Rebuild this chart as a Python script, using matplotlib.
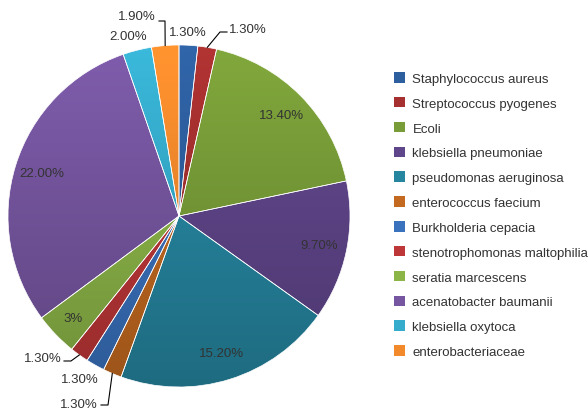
import numpy as np
import matplotlib.pyplot as plt
from matplotlib.colors import to_rgb
from matplotlib.patches import Patch

plt.rcParams['font.family'] = ['Liberation Sans', 'DejaVu Sans']

# Data
names = ['Staphylococcus aureus', 'Streptococcus pyogenes', 'Ecoli',
         'klebsiella pneumoniae', 'pseudomonas aeruginosa', 'enterococcus faecium',
         'Burkholderia cepacia', 'stenotrophomonas maltophilia', 'seratia marcescens',
         'acenatobacter baumanii', 'klebsiella oxytoca', 'enterobacteriaceae']
values = [1.3, 1.3, 13.4, 9.7, 15.2, 1.3, 1.3, 1.3, 3.0, 22.0, 2.0, 1.9]
value_labels = ['1.30%', '1.30%', '13.40%', '9.70%', '15.20%', '1.30%',
                '1.30%', '1.30%', '3%', '22.00%', '2.00%', '1.90%']

colors = ['#2D5E9E', '#A5302F', '#789C38', '#5F4589', '#2686A0', '#C46A20',
          '#3A72BE', '#BE3738', '#8CB548', '#7656A0', '#36ACCC', '#F28A2C']

fig = plt.figure(figsize=(5.88, 4.10), dpi=100)
ax = fig.add_axes([0, 0, 1, 1])

cx, cy, R = 179, 193, 171
wedges, _ = ax.pie(values, colors=colors, startangle=90, counterclock=False,
                   center=(cx, cy), radius=R,
                   wedgeprops=dict(edgecolor='white', linewidth=0.5))

# vertical gradient inside every slice (light at top, dark at bottom)
shade = np.linspace(1.08, 0.80, 256)
for w, c in zip(wedges, colors):
    img = np.clip(np.array(to_rgb(c))[None, None, :] * shade[:, None, None], 0, 1)
    im = ax.imshow(img, extent=(cx - R, cx + R, cy - R, cy + R), origin='upper',
                   aspect='auto', interpolation='bilinear', zorder=w.get_zorder() - 0.1)
    im.set_clip_path(w)
    w.set_facecolor('none')

ax.set_xlim(0, 588)
ax.set_ylim(0, 410)
ax.set_aspect('equal')
ax.axis('off')

txt_color = '#333333'
fs = 9.5

def mid_angle(w):
    return np.deg2rad((w.theta1 + w.theta2) / 2)

# labels inside the big slices
for i in [2, 3, 4, 8, 9]:
    a = mid_angle(wedges[i])
    r = 0.86 if i == 8 else 0.84
    ax.text(cx + r * R * np.cos(a), cy + r * R * np.sin(a), value_labels[i],
            ha='center', va='center', fontsize=fs, color=txt_color, zorder=5)

# labels outside the small slices: index -> (text x, text y, ha, leader elbow, leader end)
outside = {
    0: (188, 377, 'center', None, None),
    1: (229, 380, 'left', (220, 377), (227, 377)),
    5: (98, 5, 'right', (108, 4), (101, 4)),
    6: (80, 30, 'center', None, None),
    7: (62, 51, 'right', (71, 48), (64, 48)),
    10: (128, 373, 'center', None, None),
    11: (156, 393, 'right', (165, 388), (159, 388)),
}
for i, (tx, ty, ha, elbow, end) in outside.items():
    ax.text(tx, ty, value_labels[i], ha=ha, va='center', fontsize=fs,
            color=txt_color, zorder=5)
    if elbow is not None:
        a = mid_angle(wedges[i])
        wx, wy = cx + R * np.cos(a), cy + R * np.sin(a)
        ax.plot([wx, elbow[0], end[0]], [wy, elbow[1], end[1]],
                color='black', lw=0.8, zorder=5)

handles = [Patch(facecolor=c, edgecolor='none') for c in colors]
fig.legend(handles, names, loc='upper left', bbox_to_anchor=(394 / 588, 1 - 73 / 410),
           frameon=False, fontsize=fs, handlelength=0.85, handleheight=0.85,
           handletextpad=0.55, labelspacing=0.91, borderpad=0, borderaxespad=0,
           labelcolor=txt_color)

fig.savefig('out.png', dpi=100)
